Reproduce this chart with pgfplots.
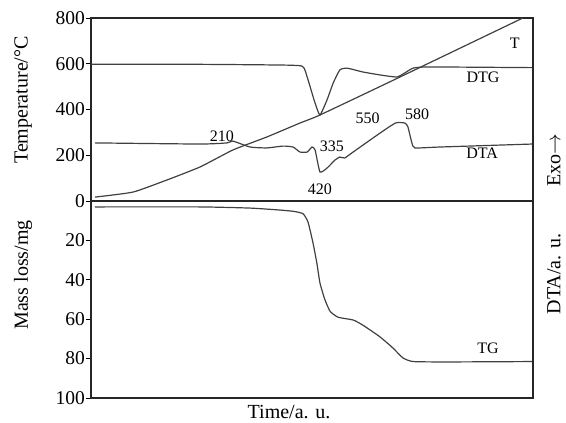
\documentclass[border=0pt]{standalone}
\usepackage{pgfplots}
\pgfplotsset{compat=1.18}
\usepackage{fontspec}
\setmainfont{Liberation Serif}
\begin{document}
\begin{tikzpicture}
\pgfplotsset{
  myax/.style={
    scale only axis, width=442pt, xmin=0, xmax=100,
    axis line style={line width=1.1pt, black!85},
    xtick=\empty, ytick pos=left, tick align=outside,
    major tick length=5pt,
    every tick/.style={black, line width=0.9pt},
    /pgf/number format/assume math mode=true,
    tick label style={font=\fontsize{19.5}{22}\selectfont, inner sep=1pt},
    clip=true,
  },
  curve/.style={black!75, line width=1.2pt, smooth, tension=0.3, no marks},
}
\def\ann{\fontsize{16}{18}\selectfont}
\def\lab{\fontsize{20}{23}\selectfont}
% bounding box (image 566x423 px, axis lower-left at px (91,398))
\path (-91pt,-25pt) rectangle (475pt,398pt);

\begin{axis}[myax, name=bot, at={(0pt,0pt)}, anchor=south west, height=197pt,
  ymin=0, ymax=100, y dir=reverse, ytick={20,40,60,80,100}]
\addplot[curve] coordinates {
(0.9,3.0) (24.7,3.0) (36.0,3.6) (42.8,4.6) (46.0,5.3) (48.0,6.5) (49.1,10.7)
(50.2,21) (51.1,31.5) (51.8,41.6) (52.9,50) (54.1,56) (55.9,59) (59.3,60.4)
(61.5,63) (65.4,69) (68.3,74.6) (70.6,79.7) (72.9,81.5) (80.5,81.7) (99.8,81.5)
};
\node[font=\ann] at (axis cs:89.8,74.6) {TG};
\end{axis}

\begin{axis}[myax, name=top, at={(0pt,197pt)}, anchor=south west, height=183pt,
  ymin=0, ymax=800, ytick={0,200,400,600,800}]
% T
\addplot[curve] coordinates {
(0.9,17) (9.5,39) (17.2,92) (24.7,149) (32.1,223) (39.8,280) (47.3,341)
(51.8,376) (69.9,542) (97.7,800)
};
% DTG
\addplot[curve] coordinates {
(0,598) (20,598) (40,595) (47.7,590) (48.9,542) (50.0,472) (50.7,428) (51.8,376)
(53.4,442) (54.8,516) (56.3,573) (57.9,581) (61.5,564) (65.4,551) (69.2,542)
(71.0,560) (72.9,581) (76.7,586) (99.8,583)
};
% DTA
\addplot[curve] coordinates {
(0.9,254) (24.7,249) (30.8,254) (32.1,262) (36.0,236) (39.8,232) (43.4,240)
(45.7,236) (47.3,214) (48.9,214) (50.0,236) (50.7,223) (51.8,127) (53.4,144)
(55.2,179) (56.3,192) (57.4,188) (59.3,214) (65.4,297) (68.9,341)
(71.0,341) (71.7,324) (72.6,254) (73.3,232) (79.0,236) (99.8,249)
};
\node[font=\ann] at (axis cs:29.6,284) {210};
\node[font=\ann] at (axis cs:54.5,240) {335};
\node[font=\ann] at (axis cs:51.8,50) {420};
\node[font=\ann] at (axis cs:62.6,360) {550};
\node[font=\ann] at (axis cs:73.8,380) {580};
\node[font=\ann] at (axis cs:95.9,690) {T};
\node[font=\ann] at (axis cs:88.7,542) {DTG};
\node[font=\ann] at (axis cs:88.5,210) {DTA};
\end{axis}

\node[rotate=90, font=\lab] at (-68pt,298pt) {Temperature/°C};
\node[rotate=90, font=\lab] at (-68pt,123pt) {Mass loss/mg};
\node[rotate=90, font=\lab] at (463pt,238pt) {Exo$\rightarrow$};
\node[rotate=90, font=\lab] at (463pt,124pt) {DTA/a. u.};
\node[font=\lab] at (198pt,-14pt) {Time/a. u.};
\end{tikzpicture}
\end{document}
